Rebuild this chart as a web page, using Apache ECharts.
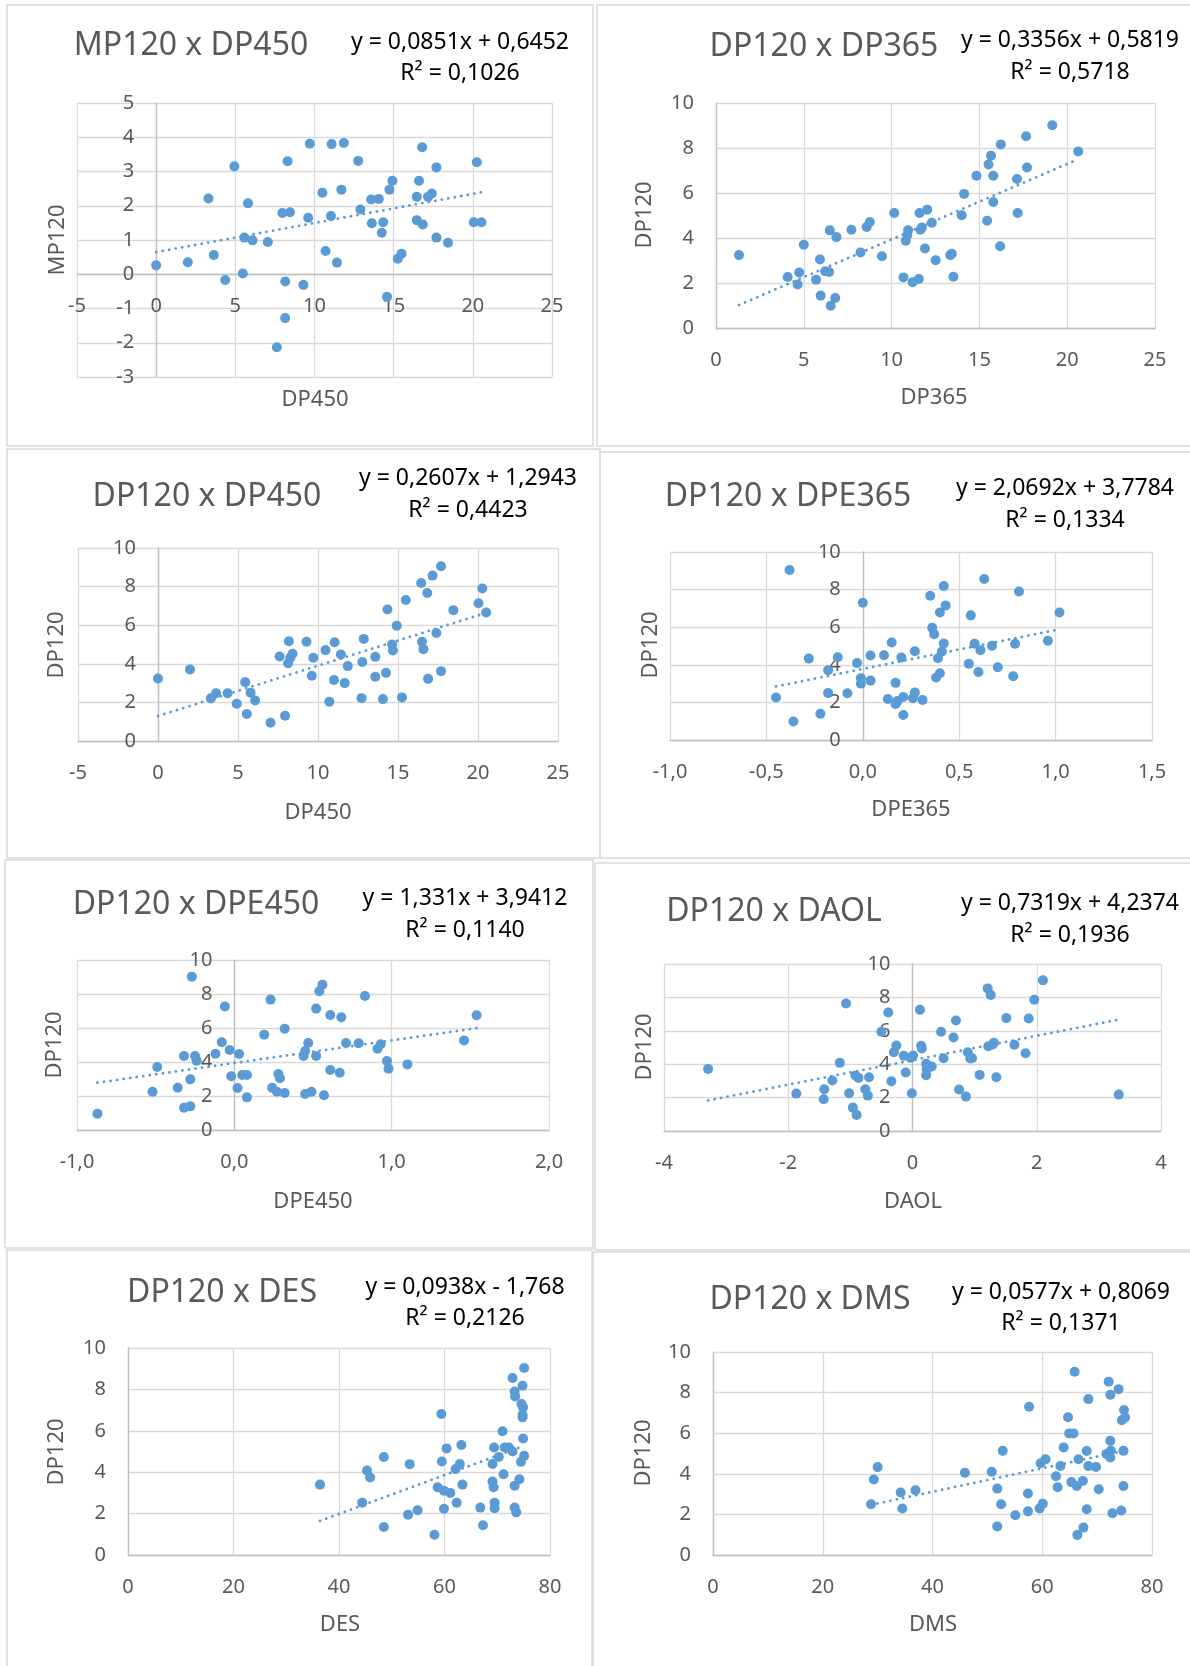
<!DOCTYPE html>
<html>
<head>
<meta charset="utf-8">
<script src="https://cdn.jsdelivr.net/npm/echarts@6/dist/echarts.min.js"></script>
<style>
  html, body { margin: 0; padding: 0; background: #fff; }
  #chart { width: 1190px; height: 1666px; }
</style>
</head>
<body>
<div id="chart"></div>
<script>
// ---- data ([x, y] per subject) ----
const mp120_dp450 = [[0,0.26],[2.0,0.35],[3.3,2.21],[3.64,0.56],[4.36,-0.17],[4.94,3.15],[5.47,0.02],[5.57,1.07],[5.8,2.07],[6.09,0.99],[7.05,0.94],[7.62,-2.13],[7.97,1.79],[8.45,1.81],[8.3,3.3],[8.15,-0.21],[8.15,-1.28],[9.3,-0.31],[9.6,1.65],[9.7,3.81],[10.5,2.38],[10.7,0.68],[11.04,1.7],[11.08,3.8],[11.42,0.34],[11.7,2.47],[11.85,3.83],[12.76,3.31],[12.9,1.89],[13.58,2.18],[13.62,1.49],[14.06,2.2],[14.25,1.21],[14.34,1.52],[14.58,-0.66],[14.73,2.47],[14.92,2.73],[15.26,0.45],[15.5,0.6],[16.46,1.58],[16.46,2.26],[16.6,2.73],[16.84,1.45],[16.8,3.71],[17.17,2.26],[17.41,2.36],[17.7,3.12],[17.7,1.07],[18.43,0.92],[20.06,1.52],[20.25,3.27],[20.54,1.52]];

const dp120_dp365 = [[1.31,3.24],[4.08,2.27],[4.74,2.47],[4.65,1.93],[5.0,3.7],[5.7,2.15],[5.92,3.05],[5.96,1.44],[6.22,2.52],[6.44,2.49],[6.48,4.34],[6.53,0.99],[6.79,1.33],[6.86,4.04],[7.71,4.37],[8.23,3.36],[8.58,4.49],[8.76,4.71],[9.45,3.19],[10.15,5.11],[10.68,2.25],[10.81,3.88],[10.9,4.13],[10.94,4.34],[11.2,2.03],[11.55,2.18],[11.59,5.11],[11.64,4.37],[11.72,4.47],[11.9,3.53],[12.03,5.26],[12.29,4.68],[12.51,3.01],[13.34,3.24],[13.43,3.3],[13.52,2.28],[13.99,5.01],[14.13,5.96],[14.83,6.77],[15.44,4.77],[15.52,7.27],[15.66,7.66],[15.79,6.77],[15.79,5.6],[16.18,3.63],[16.22,8.16],[17.14,6.62],[17.18,5.11],[17.71,7.13],[17.66,8.52],[19.15,9.01],[20.63,7.85]];

const dp120_dp450 = [[0,3.24],[2.0,3.71],[3.3,2.21],[3.63,2.47],[4.35,2.47],[4.92,1.93],[5.45,3.05],[5.55,1.4],[5.79,2.5],[6.07,2.1],[7.03,0.95],[7.6,4.38],[7.94,1.31],[8.18,5.17],[8.13,4.03],[8.27,4.31],[8.41,4.52],[9.28,5.14],[9.61,3.38],[9.71,4.31],[10.47,4.71],[10.71,2.03],[11.0,3.16],[11.04,5.12],[11.43,4.48],[11.67,3.0],[11.86,3.88],[12.72,2.22],[12.77,4.09],[12.86,5.29],[13.58,4.36],[13.58,3.33],[14.06,2.17],[14.25,3.53],[14.34,6.81],[14.63,5.0],[14.68,4.69],[14.92,5.97],[15.25,2.26],[15.49,7.31],[16.45,8.19],[16.5,5.14],[16.59,4.76],[16.83,7.67],[16.88,3.22],[17.16,8.57],[17.4,5.6],[17.69,9.05],[17.69,3.62],[18.46,6.78],[20.03,7.14],[20.27,7.9],[20.51,6.66]];

const dp120_dpe365 = [[-0.38,9.04],[-0.45,2.26],[-0.36,0.98],[-0.28,4.33],[-0.22,1.4],[-0.18,2.5],[-0.18,3.71],[-0.13,4.4],[-0.08,2.49],[-0.03,4.09],[-0.01,3.29],[-0.01,3.0],[0.0,7.3],[0.04,4.49],[0.04,3.16],[0.11,4.51],[0.13,2.18],[0.15,5.19],[0.17,3.04],[0.17,1.92],[0.18,2.08],[0.2,4.39],[0.21,1.33],[0.21,2.29],[0.26,2.22],[0.27,2.52],[0.27,4.72],[0.31,2.13],[0.35,7.67],[0.36,5.97],[0.37,5.63],[0.38,3.32],[0.39,4.35],[0.4,3.55],[0.4,6.78],[0.41,4.71],[0.42,5.13],[0.42,8.19],[0.43,7.16],[0.55,4.05],[0.56,6.63],[0.58,5.12],[0.6,3.62],[0.61,4.78],[0.63,8.56],[0.67,5.01],[0.7,3.87],[0.78,3.39],[0.79,5.12],[0.81,7.9],[0.96,5.28],[1.02,6.78]];

const dp120_dpe450 = [[-0.87,0.96],[-0.52,2.25],[-0.49,3.71],[-0.36,2.49],[-0.32,4.35],[-0.32,1.31],[-0.28,1.39],[-0.28,2.98],[-0.27,9.02],[-0.25,4.35],[-0.24,4.08],[-0.12,4.49],[-0.08,5.16],[-0.06,7.27],[-0.03,4.71],[-0.02,3.16],[0.02,2.47],[0.03,4.47],[0.05,3.24],[0.08,3.24],[0.08,1.92],[0.19,5.61],[0.23,7.67],[0.24,2.49],[0.27,2.25],[0.28,3.29],[0.29,3.04],[0.32,2.18],[0.32,5.96],[0.44,4.35],[0.45,2.12],[0.45,4.65],[0.47,5.12],[0.49,2.25],[0.52,7.14],[0.52,4.35],[0.54,8.16],[0.56,8.55],[0.57,2.04],[0.61,3.53],[0.61,6.76],[0.67,3.37],[0.68,6.63],[0.71,5.12],[0.79,5.1],[0.83,7.88],[0.91,4.78],[0.93,5.04],[0.97,4.06],[0.98,3.61],[1.1,3.86],[1.46,5.27],[1.54,6.75]];

const dp120_daol = [[-3.29,3.72],[-1.87,2.24],[-1.43,1.9],[-1.42,2.5],[-1.29,3.02],[-1.17,4.08],[-1.07,7.64],[-1.02,2.26],[-0.96,1.4],[-0.92,3.32],[-0.9,0.96],[-0.87,3.18],[-0.76,2.5],[-0.72,2.12],[-0.7,3.22],[-0.5,5.94],[-0.39,7.1],[-0.34,2.98],[-0.3,4.72],[-0.26,5.12],[-0.14,4.5],[-0.11,3.5],[-0.03,4.38],[-0.01,2.26],[0.01,4.52],[0.12,7.26],[0.14,5.1],[0.15,4.94],[0.22,4.02],[0.22,3.34],[0.23,3.68],[0.31,3.86],[0.46,5.94],[0.5,4.36],[0.66,5.6],[0.7,6.62],[0.75,2.48],[0.86,2.06],[0.89,4.72],[0.93,4.34],[0.96,4.36],[1.08,3.36],[1.21,8.54],[1.22,5.08],[1.26,8.14],[1.29,5.18],[1.31,5.28],[1.35,3.22],[1.51,6.76],[1.64,5.16],[1.82,4.66],[1.87,6.74],[1.96,7.86],[2.1,9.02],[3.32,2.18]];

const dp120_des = [[36.4,3.4],[44.4,2.53],[45.3,4.08],[45.9,3.74],[48.5,4.73],[48.5,1.35],[53.1,1.95],[53.4,4.39],[54.9,2.16],[58.1,0.98],[58.7,3.27],[59.4,6.81],[59.5,4.52],[59.9,3.1],[59.9,2.23],[60.4,5.15],[61.1,3.0],[62.1,4.15],[62.3,2.53],[62.9,4.4],[63.2,5.31],[63.4,3.4],[66.8,2.29],[67.3,1.44],[69.1,4.4],[69.1,3.55],[69.3,3.27],[69.4,5.19],[69.5,2.53],[69.5,2.26],[70.3,4.74],[71.0,5.98],[71.2,3.9],[71.4,5.19],[72.2,5.19],[72.9,5.0],[72.9,8.55],[73.3,7.9],[73.4,7.66],[73.3,3.35],[73.3,2.29],[73.6,2.06],[74.2,3.66],[74.5,4.5],[74.6,7.29],[74.8,6.77],[74.8,8.18],[74.9,7.13],[74.9,5.63],[75.1,4.79],[75.1,9.03],[74.8,6.65]];

const dp120_dms = [[28.8,2.5],[29.3,3.72],[30.0,4.33],[34.2,3.08],[34.5,2.29],[36.9,3.19],[45.9,4.05],[50.8,4.1],[51.8,3.27],[51.8,1.41],[52.5,2.5],[52.8,5.13],[55.1,1.96],[57.4,3.03],[57.4,2.15],[57.6,7.3],[59.5,2.29],[59.7,4.52],[60.1,2.53],[60.6,4.72],[62.5,3.88],[62.8,3.34],[63.3,4.38],[63.9,5.3],[64.7,6.79],[64.9,5.99],[65.3,3.59],[65.7,5.99],[65.9,9.03],[66.3,3.4],[66.4,0.99],[66.6,4.72],[67.4,3.65],[67.5,1.35],[68.1,2.25],[68.1,5.12],[68.4,7.68],[68.4,4.38],[69.8,4.34],[70.3,3.24],[71.7,4.98],[72.1,8.54],[72.4,7.89],[72.4,5.63],[72.4,4.8],[72.5,5.15],[72.8,2.06],[73.9,8.17],[74.4,2.19],[74.5,6.64],[74.8,3.4],[74.8,5.13],[74.9,7.14],[75.1,6.78]];

// ---- chart texts and trendline equations ----
const titles = ['MP120 x DP450', 'DP120 x DP365', 'DP120 x DP450', 'DP120 x DPE365',
                'DP120 x DPE450', 'DP120 x DAOL', 'DP120 x DES', 'DP120 x DMS'];
const xNames = ['DP450', 'DP365', 'DP450', 'DPE365', 'DPE450', 'DAOL', 'DES', 'DMS'];
const yNames = ['MP120', 'DP120', 'DP120', 'DP120', 'DP120', 'DP120', 'DP120', 'DP120'];
const eqLines = ['y = 0,0851x + 0,6452', 'y = 0,3356x + 0,5819', 'y = 0,2607x + 1,2943', 'y = 2,0692x + 3,7784',
                 'y = 1,331x + 3,9412', 'y = 0,7319x + 4,2374', 'y = 0,0938x - 1,768', 'y = 0,0577x + 0,8069'];
const r2Lines = ['R² = 0,1026', 'R² = 0,5718', 'R² = 0,4423', 'R² = 0,1334',
                 'R² = 0,1140', 'R² = 0,1936', 'R² = 0,2126', 'R² = 0,1371'];
const slopes = [0.0851, 0.3356, 0.2607, 2.0692, 1.331, 0.7319, 0.0938, 0.0577];
const intercepts = [0.6452, 0.5819, 1.2943, 3.7784, 3.9412, 4.2374, -1.768, 0.8069];

// ---- axis ticks: [min, max, interval, decimals] ----
const xTicks = [[-5, 25, 5, 0], [0, 25, 5, 0], [-5, 25, 5, 0], [-1, 1.5, 0.5, 1],
                [-1, 2, 1, 1], [-4, 4, 2, 0], [0, 80, 20, 0], [0, 80, 20, 0]];
const yTicks = [[-3, 5, 1, 0], [0, 10, 2, 0], [0, 10, 2, 0], [0, 10, 2, 0],
                [0, 10, 2, 0], [0, 10, 2, 0], [0, 10, 2, 0], [0, 10, 2, 0]];

const allData = [mp120_dp450, dp120_dp365, dp120_dp450, dp120_dpe365,
                 dp120_dpe450, dp120_daol, dp120_des, dp120_dms];

// ---- layout of each panel (pixels) ----
const layout = [
  { box: [7, 5, 586, 441],   grid: [77, 103, 475, 274],  title: [191, 46],  eq: [460, 42, 73],    yn: [58, 240],   xn: [315, 400] },
  { box: [597, 5, 600, 441], grid: [716, 103, 439, 225], title: [824, 47],  eq: [1070, 40, 72],   yn: [645, 215],  xn: [934, 398] },
  { box: [7, 449, 593, 409], grid: [78, 548, 480, 193],  title: [207, 497], eq: [468, 478, 510],  yn: [57, 645],   xn: [318, 813] },
  { box: [600, 452, 600, 406], grid: [670, 552, 482, 188], title: [788, 497], eq: [1065, 488, 520], yn: [651, 645], xn: [911, 810] },
  { box: [5, 860, 588, 388], grid: [77, 960, 472, 170],  title: [196, 905], eq: [465, 898, 930],  yn: [55, 1045],  xn: [313, 1202] },
  { box: [595, 863, 605, 387], grid: [664, 964, 497, 167], title: [774, 912], eq: [1070, 903, 935], yn: [645, 1047], xn: [913, 1202] },
  { box: [7, 1250, 585, 430], grid: [128, 1348, 422, 207], title: [222, 1293], eq: [465, 1287, 1318], yn: [57, 1452], xn: [340, 1625] },
  { box: [593, 1252, 610, 430], grid: [713, 1352, 439, 203], title: [810, 1300], eq: [1061, 1292, 1323], yn: [644, 1453], xn: [933, 1625] }
];

const FONT = "'Noto Sans', 'DejaVu Sans', sans-serif";
const BLUE = '#5b9bd5';
const GREY = '#595959';

const chart = echarts.init(document.getElementById('chart'));

const grids = [], xAxes = [], yAxes = [], series = [], graphic = [];

// how far (px) an axis must move inward so that it crosses the other axis at 0
function zeroShift(t, size) {
  return (t[0] < 0 && t[1] > 0) ? -(0 - t[0]) / (t[1] - t[0]) * size : 0;
}

layout.forEach((p, i) => {
  const [gl, gt, gw, gh] = p.grid;
  grids.push({ left: gl, top: gt, width: gw, height: gh, containLabel: false });

  const fmt = (dec) => (v) => v.toFixed(dec).replace('.', ',');
  const axisCommon = {
    type: 'value',
    axisTick: { show: false },
    axisLine: { show: true, onZero: false, lineStyle: { color: '#bfbfbf', width: 1.3 } },
    splitLine: { show: true, lineStyle: { color: '#d9d9d9', width: 1.3 } },
    axisLabel: { color: GREY, fontSize: 20, fontFamily: FONT, margin: 22 }
  };
  const xt = xTicks[i], yt = yTicks[i];
  // Excel puts each axis (line and labels) where the other axis is 0
  xAxes.push(Object.assign({}, axisCommon, {
    gridIndex: i, position: 'bottom', offset: zeroShift(yt, gh),
    min: xt[0], max: xt[1], interval: xt[2],
    axisLabel: Object.assign({}, axisCommon.axisLabel, { formatter: fmt(xt[3]) })
  }));
  yAxes.push(Object.assign({}, axisCommon, {
    gridIndex: i, position: 'left', offset: zeroShift(xt, gw),
    min: yt[0], max: yt[1], interval: yt[2],
    axisLabel: Object.assign({}, axisCommon.axisLabel, { formatter: fmt(yt[3]) })
  }));

  const data = allData[i];
  series.push({
    type: 'scatter', xAxisIndex: i, yAxisIndex: i,
    symbol: 'circle', symbolSize: 10,
    itemStyle: { color: BLUE, opacity: 1 },
    data: data, z: 2
  });

  // linear trendline over the data range, from the equation shown on the chart
  const xs = data.map(d => d[0]);
  const x0 = Math.min.apply(null, xs), x1 = Math.max.apply(null, xs);
  series.push({
    type: 'line', xAxisIndex: i, yAxisIndex: i,
    symbol: 'none', silent: true, z: 3,
    lineStyle: { color: BLUE, width: 2.8, type: [0.1, 6.5], cap: 'round' },
    data: [[x0, slopes[i] * x0 + intercepts[i]], [x1, slopes[i] * x1 + intercepts[i]]]
  });

  // panel frame
  graphic.push({
    type: 'rect', z: -10, silent: true,
    shape: { x: p.box[0], y: p.box[1], width: p.box[2], height: p.box[3] },
    style: { fill: null, stroke: '#d9d9d9', lineWidth: 1.5 }
  });
  // title
  graphic.push({
    type: 'text', x: p.title[0], y: p.title[1],
    style: { text: titles[i], fill: GREY, fontSize: 32, fontFamily: FONT, align: 'center', verticalAlign: 'middle' }
  });
  // equation + R²
  graphic.push({
    type: 'text', x: p.eq[0], y: p.eq[1],
    style: { text: eqLines[i], fill: '#000', fontSize: 23, fontFamily: FONT, align: 'center', verticalAlign: 'middle' }
  });
  graphic.push({
    type: 'text', x: p.eq[0], y: p.eq[2],
    style: { text: r2Lines[i], fill: '#000', fontSize: 23, fontFamily: FONT, align: 'center', verticalAlign: 'middle' }
  });
  // axis titles
  graphic.push({
    type: 'text', x: p.yn[0], y: p.yn[1], rotation: Math.PI / 2,
    style: { text: yNames[i], fill: GREY, fontSize: 22, fontFamily: FONT, align: 'center', verticalAlign: 'middle' }
  });
  graphic.push({
    type: 'text', x: p.xn[0], y: p.xn[1],
    style: { text: xNames[i], fill: GREY, fontSize: 22, fontFamily: FONT, align: 'center', verticalAlign: 'middle' }
  });
});

chart.setOption({
  animation: false,
  backgroundColor: '#fff',
  grid: grids,
  xAxis: xAxes,
  yAxis: yAxes,
  series: series,
  graphic: graphic
});
</script>
</body>
</html>
